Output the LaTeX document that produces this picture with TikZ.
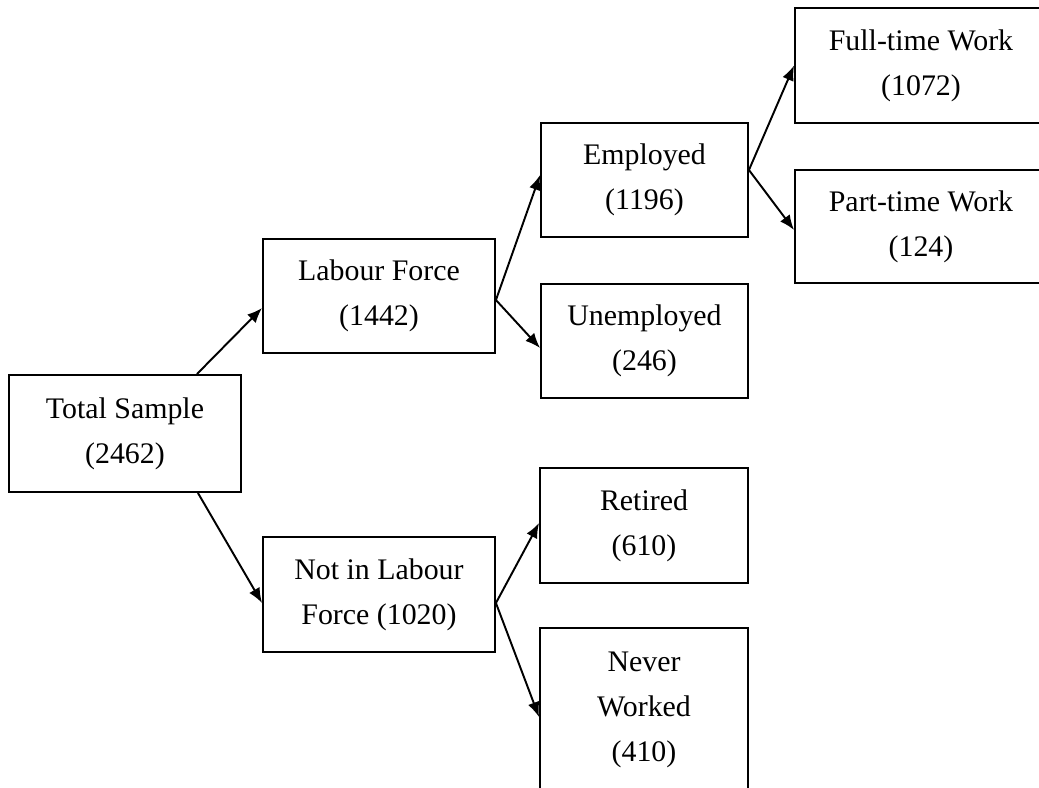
\documentclass[tikz,border=0pt]{standalone}
\usepackage{fontspec}
\setmainfont{Liberation Serif}
\usepackage{tikz}
\usetikzlibrary{arrows.meta}

\begin{document}
\begin{tikzpicture}[x=0.02cm,y=-0.02cm,
    box/.style={draw,line width=1.1pt,align=center,inner sep=0pt,
        font=\fontsize{17}{25.6}\selectfont},
    arr/.style={line width=1.1pt,-{Latex[length=0.3cm,width=0.24cm]}}]
\useasboundingbox (0,0) rectangle (1039,788);
\clip (0,0) rectangle (1039,788);

% Boxes
\node[box,minimum width=4.64cm,minimum height=2.34cm] (ts) at (125,433.5) {Total Sample\\(2462)};
\node[box,minimum width=4.64cm,minimum height=2.28cm] (lf) at (379,296) {Labour Force\\(1442)};
\node[box,minimum width=4.64cm,minimum height=2.30cm] (nlf) at (379,594.5) {Not in Labour\\Force (1020)};
\node[box,minimum width=4.14cm,minimum height=2.28cm] (emp) at (644.5,180) {Employed\\(1196)};
\node[box,minimum width=4.14cm,minimum height=2.28cm] (unemp) at (644.5,341) {Unemployed\\(246)};
\node[box,minimum width=4.16cm,minimum height=2.30cm] (ret) at (644,525.5) {Retired\\(610)};
\node[box,minimum width=4.16cm,minimum height=3.28cm] (nw) at (644,710) {Never\\Worked\\(410)};
\node[box,minimum width=5.04cm,minimum height=2.30cm] (ft) at (921,65.5) {Full-time Work\\(1072)};
\node[box,minimum width=5.04cm,minimum height=2.26cm] (pt) at (921,226.5) {Part-time Work\\(124)};

% Arrows
\draw[arr] ([xshift=-0.9cm]ts.north east) -- ([yshift=-0.24cm]lf.west);    % total -> labour force
\draw[arr] ([xshift=-0.88cm]ts.south east) -- ([yshift=-0.17cm]nlf.west);  % total -> not in labour force
\draw[arr] ([yshift=-0.08cm]lf.east) -- ([yshift=0.1cm]emp.west);          % labour force -> employed
\draw[arr] ([yshift=-0.08cm]lf.east) -- ([yshift=-0.14cm]unemp.west);      % labour force -> unemployed
\draw[arr] ([yshift=0.2cm]emp.east) -- (ft.west);                          % employed -> full-time
\draw[arr] ([yshift=0.2cm]emp.east) -- ([yshift=-0.07cm]pt.west);          % employed -> part-time
\draw[arr] ([yshift=-0.17cm]nlf.east) -- ([yshift=0.05cm]ret.west);        % not in labour force -> retired
\draw[arr] ([yshift=-0.17cm]nlf.east) -- ([yshift=-0.14cm]nw.west);        % not in labour force -> never worked
\end{tikzpicture}
\end{document}
